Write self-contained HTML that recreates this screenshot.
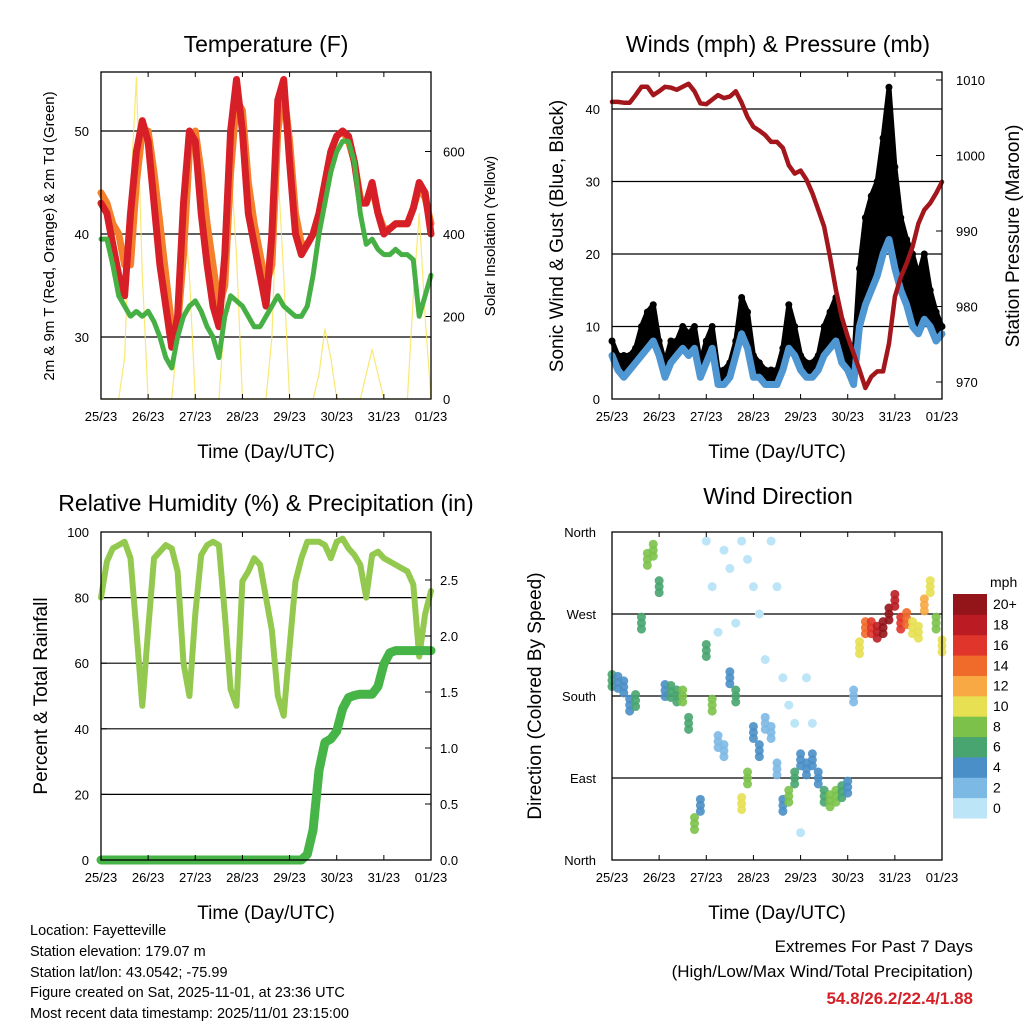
<!DOCTYPE html>
<html><head><meta charset="utf-8"><style>
body{margin:0;background:#fff}
svg{display:block;font-family:"Liberation Sans",sans-serif}
</style></head><body>
<svg id="s" width="1024" height="1024" viewBox="0 0 1024 1024" xmlns="http://www.w3.org/2000/svg">
<rect width="1024" height="1024" fill="#fff"/>
<g id="bottomtext" font-size="14.5" fill="#000">
<text x="30" y="935">Location: Fayetteville</text>
<text x="30" y="956">Station elevation: 179.07 m</text>
<text x="30" y="977">Station lat/lon: 43.0542; -75.99</text>
<text x="30" y="997">Figure created on Sat, 2025-11-01, at 23:36 UTC</text>
<text x="30" y="1018">Most recent data timestamp: 2025/11/01 23:15:00</text>
<text x="973" y="952" text-anchor="end" font-size="17">Extremes For Past 7 Days</text>
<text x="973" y="977" text-anchor="end" font-size="17">(High/Low/Max Wind/Total Precipitation)</text>
<text x="973" y="1004" text-anchor="end" font-size="17" font-weight="bold" fill="#d42027">54.8/26.2/22.4/1.88</text>
</g>
</svg>
<script>
// ---------- data (3-hourly samples, index 0 = 25/23 UTC) ----------
const dayLabels=["25/23","26/23","27/23","28/23","29/23","30/23","31/23","01/23"];
const tempTicks=[30,40,50];
const solarTicks=[0,200,400,600];
const windTicks=[0,10,20,30,40];
const presTicks=[970,980,990,1000,1010];
const rhTicks=[0,20,40,60,80,100];
const rainTicks=[0.0,0.5,1.0,1.5,2.0,2.5];
const dirTicks=["North","East","South","West","North"];
const speedBins=["0","2","4","6","8","10","12","14","16","18","20+"];
const temp2m=[43,42,39,36,34,42,48,51,49,43,37,33,29,32,43,50,49,42,37,33,31,38,50,55,50,42,39,36,33,40,53,55,47,40,38,39,40,42,45,48,49.5,50,49.5,47,43,43,45,42,40,40.5,41,41,41,42.5,45,44,40];
const temp9m=[44,43,41,40,37,37,45,50,50,46,41,36,31,31,38,48,50,46,41,37,33,35,46,53,52,45,41,38,35,37,50,54,49,42,39,39,40,42,45,48,49.5,50,49,47,43.5,43,44.5,42,40.5,40.5,41,41,41,42.5,44.5,43.5,41];
const dew2m=[39.5,39.5,37,34,33,32,32.5,32,32.5,31.5,30,28,27,30,32,33,33.5,32.5,31,30,28,32,34,33.5,33,32,31,31,32,33,34,33,32.5,32,32,33,36,40,43,46,48,49,49,47,42,39,39.5,38.5,38,38,38.5,38,38,37.5,32,34,36];
const solar=[0,0,0,0,100,500,780,300,0,0,0,0,0,150,480,300,0,0,0,0,0,200,570,350,0,0,0,0,0,150,560,300,0,0,0,0,0,60,170,100,0,0,0,0,0,60,120,60,0,0,0,0,0,250,450,200,0];
const windSonic=[6,4,3,4,5,6,7,8,6,3,5,6,7,6,7,3,5,7,2,2,3,6,9,7,3,3,2,2,2,4,7,6,4,3,3,4,6,7,8,5,4,2,10,13,15,17,20,22,18,15,13,10,9,11,10,8,9];
const windGust=[8,6,6,6,7,10,12,13,8,5,8,8,10,9,10,5,8,10,4,4,5,8,14,12,6,5,4,4,4,7,13,10,6,5,5,6,10,12,14,10,7,5,18,25,28,30,36,43,32,25,22,20,17,20,15,12,10];
const pressure=[1007.1,1007.1,1007,1007,1008,1009.1,1009.1,1008,1008.5,1009.1,1009,1008.7,1009.1,1009.5,1008.5,1006.9,1006.8,1007.4,1008,1007.6,1007.8,1008.5,1007,1005.1,1003.8,1003.3,1002.7,1001.8,1001.8,1001,998.7,997.6,998,996.8,995,992.8,990.6,986.6,982.2,978.6,976,973.8,971.6,969.2,970.7,971.4,971.4,975.1,981.3,983.9,985.7,987.9,991,992.8,993.7,995,996.5];
const relHum=[80,91,95,96,97,92,70,47,70,92,94,96,95,88,60,50,75,93,96,97,96,75,52,47,85,88,92,90,80,70,50,44,65,85,92,97,97,97,96,92,97,98,95,93,90,80,93,94,92,91,90,89,88,84,62,75,82];
const rainTotal=[0,0,0,0,0,0,0,0,0,0,0,0,0,0,0,0,0,0,0,0,0,0,0,0,0,0,0,0,0,0,0,0,0,0,0,0.05,0.27,0.8,1.05,1.08,1.15,1.35,1.45,1.47,1.48,1.48,1.48,1.55,1.75,1.85,1.87,1.87,1.87,1.87,1.87,1.87,1.87];
const windDir=[197,195,190,170,175,260,330,340,300,186,185,180,180,150,40,60,230,170,130,120,200,180,62,90,140,120,150,140,100,60,70,90,110,100,110,90,70,65,70,75,80,180,233,255,255,250,255,270,285,260,265,255,250,280,300,260,235];
const windDir2=[null,null,null,null,null,null,null,null,null,null,null,null,null,null,null,null,350,300,250,340,320,260,350,330,300,270,220,350,300,200,170,150,30,200,150,null,null,null,null,null,null,null,null,null,null,null,null,null,null,null,null,null,null,null,null,null,null];
const speedColors=["#bde5f8","#7db9e5","#4a8fc7","#48a56f","#7cc24a","#e6e052","#f8a944","#f06a2a","#e0352a","#bb1c24","#931519"];

const NS="http://www.w3.org/2000/svg";
const svg=document.getElementById('s');
function mk(tag,attrs,parent){const e=document.createElementNS(NS,tag);for(const k in attrs)e.setAttribute(k,attrs[k]);(parent||svg).appendChild(e);return e;}
function txt(s,attrs,parent){const e=mk('text',attrs,parent);e.textContent=s;return e;}
const N=temp2m.length-1;

function makePanel(x0,x1,y0,y1,name){
  const g=mk('g',{});
  
  
  const xs=t=>x0+(x1-x0)*t/N;
  return {g,xs,x0,x1,y0,y1};
}
function frame(p){
  const f=mk('rect',{x:p.x0,y:p.y0,width:p.x1-p.x0,height:p.y1-p.y0,fill:'none',stroke:'#000','stroke-width':1.3},p.g);
  
  
  dayLabels.forEach((d,i)=>{
    const x=p.x0+(p.x1-p.x0)*i/7;
    mk('line',{x1:x,x2:x,y1:p.y1,y2:p.y1-5,stroke:'#000'},p.g);
    mk('line',{x1:x,x2:x,y1:p.y0,y2:p.y0+5,stroke:'#000'},p.g);
    const t=txt(d,{x:x,y:p.y1+22,'font-size':13,'text-anchor':'middle'},p.g);
    
    
  });
  const xt=txt('Time (Day/UTC)',{x:(p.x0+p.x1)/2,y:p.y1+59,'font-size':19,'text-anchor':'middle'},p.g);
  
  
}
function hgrid(p,y){mk('line',{x1:p.x0,x2:p.x1,y1:y,y2:y,stroke:'#000','stroke-width':1.2},p.g);}
function leftTick(p,y,label,lx){
  mk('line',{x1:p.x0,x2:p.x0+6,y1:y,y2:y,stroke:'#000'},p.g);
  const t=txt(label,{x:lx,y:y+5,'font-size':13,'text-anchor':'end'},p.g);
  
  
}
function rightTick(p,y,label,lx){
  mk('line',{x1:p.x1,x2:p.x1-6,y1:y,y2:y,stroke:'#000'},p.g);
  const t=txt(label,{x:lx,y:y+5,'font-size':13,'text-anchor':'start'},p.g);
  
  
}
function title(s,x,y,name){const t=txt(s,{x:x,y:y,'font-size':23,'text-anchor':'middle'});}
function vtitle(s,x,y,size,name){const t=txt(s,{x:x,y:y,'font-size':size,'text-anchor':'middle',transform:`rotate(-90 ${x} ${y})`});}
function line(p,vals,ys,color,w,name,op){
  const pts=[];vals.forEach((v,i)=>{if(v!==null)pts.push(p.xs(i).toFixed(1)+','+ys(v).toFixed(1));});
  const l=mk('polyline',{points:pts.join(' '),fill:'none',stroke:color,'stroke-width':w,'stroke-linejoin':'round','stroke-linecap':'round',opacity:op||1},p.g);
  
  
  return l;
}

// ---------- Panel 1: Temperature ----------
{
const p=makePanel(101,431,72,399,'temperature-panel');
const yT=v=>337-(v-30)*10.3;
const yS=v=>399-v*82.5/200;
title('Temperature (F)',266,52,'temperature-title');
tempTicks.forEach(v=>{hgrid(p,yT(v));leftTick(p,yT(v),String(v),89);});
solarTicks.forEach(v=>rightTick(p,yS(v),String(v),443));
line(p,solar,yS,'#f9e45a',1.2,'solar-line',0.85);
line(p,temp9m,yT,'#f5802b',7,'temp-9m-line');
line(p,temp2m,yT,'#d61f26',7,'temp-2m-line');
const dl=line(p,dew2m,yT,'#47b045',5,'dewpoint-line');
dl.setAttribute('stroke-dasharray','3 1');
frame(p);
vtitle('2m & 9m T (Red, Orange) & 2m Td (Green)',54,236,15,'temperature-y-title');
vtitle('Solar Insolation (Yellow)',495,236,15,'solar-y-title');
}
// ---------- Panel 2: Winds & Pressure ----------
{
const p=makePanel(612,942,72,399,'winds-panel');
const yW=v=>399-v*7.25;
const yP=v=>382-(v-970)*7.55;
title('Winds (mph) & Pressure (mb)',778,52,'winds-title');
windTicks.forEach(v=>{if(v>0)hgrid(p,yW(v));leftTick(p,yW(v),String(v),600);});
presTicks.forEach(v=>rightTick(p,yP(v),String(v),956));
// gust band
const top=windGust.map((v,i)=>p.xs(i).toFixed(1)+','+yW(v).toFixed(1));
const bot=windSonic.map((v,i)=>p.xs(i).toFixed(1)+','+yW(v).toFixed(1)).reverse();
const band=mk('polygon',{points:top.concat(bot).join(' '),fill:'#000'},p.g);


line(p,windGust,yW,'#000',5,'gust-line');
windGust.forEach((v,i)=>{const c=mk('circle',{cx:p.xs(i),cy:yW(v),r:3.5,fill:'#000'},p.g);

});
line(p,windSonic,yW,'#4f97d2',7,'sonic-wind-line');
line(p,pressure,yP,'#a3171c',4.5,'pressure-line');
frame(p);
vtitle('Sonic Wind & Gust (Blue, Black)',563,236,19,'winds-y-title');
vtitle('Station Pressure (Maroon)',1019,236,19,'pressure-y-title');
}
// ---------- Panel 3: RH & Precip ----------
{
const p=makePanel(101,431,532,860,'humidity-panel');
const yR=v=>860-v*3.28;
const yP=v=>860-v*112;
title('Relative Humidity (%) & Precipitation (in)',266,511,'humidity-title');
rhTicks.forEach(v=>{if(v>0&&v<100)hgrid(p,yR(v));leftTick(p,yR(v),String(v),89);});
rainTicks.forEach(v=>rightTick(p,yP(v),v.toFixed(1),440));
line(p,relHum,yR,'#94c94f',6,'humidity-line');
line(p,rainTotal,yP,'#46b446',9,'rainfall-line');
frame(p);
vtitle('Percent & Total Rainfall',47,696,19,'humidity-y-title');
}
// ---------- Panel 4: Wind Direction ----------
{
const p=makePanel(612,942,532,860,'direction-panel');
const yD=v=>860-v*328/360;
title('Wind Direction',778,504,'direction-title');
dirTicks.forEach((s,i)=>{const y=yD(i*90);if(i>0&&i<4)hgrid(p,y);leftTick(p,y,s,596);});
const colorFor=s=>speedColors[Math.min(10,Math.max(0,Math.round(s/2)))];
windDir2.forEach((d,i)=>{if(d===null)return;const c=mk('circle',{cx:p.xs(i),cy:yD(d),r:4.5,fill:speedColors[0]},p.g);

});
windDir.forEach((d,i)=>{
  [-6,0,6].forEach(o=>{const c=mk('circle',{cx:p.xs(i),cy:yD(d)+o,r:4.5,fill:colorFor(windSonic[i]),opacity:0.9},p.g);
  
  });
});
frame(p);
vtitle('Direction (Colored By Speed)',541,696,19,'direction-y-title');
// colorbar
const cb=mk('g',{});


const h=224/speedBins.length;
speedBins.forEach((s,i)=>{
  const y=818-(i+1)*h;
  const r=mk('rect',{x:953,y:y,width:34,height:h+0.5,fill:speedColors[i]},cb);
  
  
  const t=txt(s,{x:993,y:y+h/2+5,'font-size':14},cb);
  
  
});
const u=txt('mph',{x:990,y:587,'font-size':14},cb);


}
</script>
</body></html>
